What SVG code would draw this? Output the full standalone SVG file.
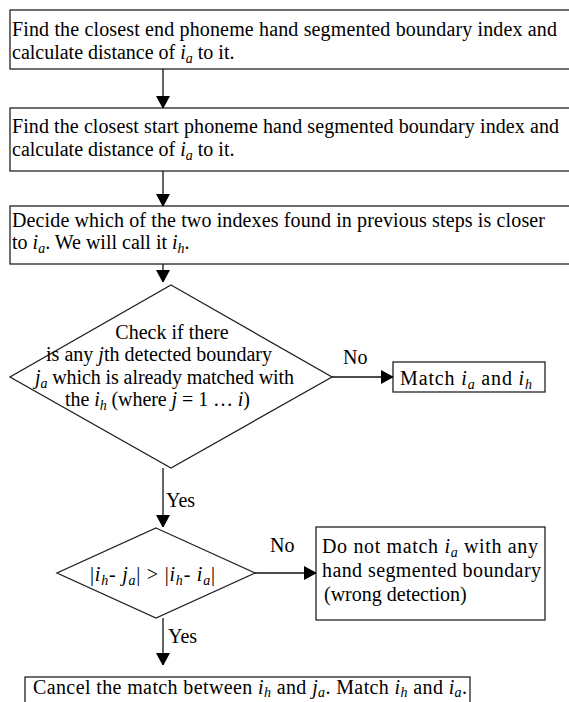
<svg xmlns="http://www.w3.org/2000/svg" width="569" height="702" viewBox="0 0 569 702">
<style>
text{font-family:"Liberation Serif","Times New Roman",serif;font-size:20px;fill:#000}
.i{font-style:italic}
.s{font-size:14px;font-style:italic}
.shape{fill:#fff;stroke:#222;stroke-width:1.3}
.conn line{stroke:#111;stroke-width:1.3}
</style>
<defs>
<marker id="ah" markerWidth="12" markerHeight="14" refX="12" refY="7" orient="auto" markerUnits="userSpaceOnUse">
<path d="M0,0 L13,7 L0,14 z" fill="#000"/>
</marker>
</defs>
<g id="box1">
<rect class="shape" x="10" y="10" width="570" height="59"/>
<text x="12" y="36" textLength="545" lengthAdjust="spacing">Find the closest end phoneme hand segmented boundary index and</text>
<text x="12" y="59">calculate distance of <tspan class="i">i</tspan><tspan class="s" dy="4">a</tspan><tspan dy="-4"> to it.</tspan></text>
</g>
<g id="box2">
<rect class="shape" x="10" y="108" width="570" height="63"/>
<text x="12" y="133" textLength="547" lengthAdjust="spacing">Find the closest start phoneme hand segmented boundary index and</text>
<text x="12" y="156">calculate distance of <tspan class="i">i</tspan><tspan class="s" dy="4">a</tspan><tspan dy="-4"> to it.</tspan></text>
</g>
<g id="box3">
<rect class="shape" x="10" y="206" width="570" height="58"/>
<text x="12" y="227" textLength="533" lengthAdjust="spacing">Decide which of the two indexes found in previous steps is closer</text>
<text x="12" y="249">to <tspan class="i">i</tspan><tspan class="s" dy="4">a</tspan><tspan dy="-4">. We will call it </tspan><tspan class="i">i</tspan><tspan class="s" dy="4">h</tspan><tspan dy="-4">.</tspan></text>
</g>
<g id="decision1">
<polygon class="shape" points="171,285 332,377 171,468 10,377"/>
<text x="172" y="339" text-anchor="middle">Check if there</text>
<text x="46" y="361" textLength="226" lengthAdjust="spacing">is any <tspan class="i">j</tspan>th detected boundary</text>
<text x="35" y="384" textLength="259" lengthAdjust="spacing"><tspan class="i">j</tspan><tspan class="s" dy="4">a</tspan><tspan dy="-4"> which is already matched with</tspan></text>
<text x="65" y="406" textLength="185" lengthAdjust="spacing">the <tspan class="i">i</tspan><tspan class="s" dy="4">h</tspan><tspan dy="-4"> (where </tspan><tspan class="i">j</tspan> = 1 … <tspan class="i">i</tspan>)</text>
</g>
<g id="match">
<rect class="shape" x="393" y="362" width="152" height="30"/>
<text x="400" y="385" textLength="132" lengthAdjust="spacing">Match <tspan class="i">i</tspan><tspan class="s" dy="4">a</tspan><tspan dy="-4"> and </tspan><tspan class="i">i</tspan><tspan class="s" dy="4">h</tspan></text>
</g>
<g id="decision2">
<polygon class="shape" points="156,528 255,573 156,618 57,573"/>
<text x="90" y="581" textLength="125" lengthAdjust="spacing">|<tspan class="i">i</tspan><tspan class="s" dy="4">h</tspan><tspan dy="-4">- </tspan><tspan class="i">j</tspan><tspan class="s" dy="4">a</tspan><tspan dy="-4">| &gt; |</tspan><tspan class="i">i</tspan><tspan class="s" dy="4">h</tspan><tspan dy="-4">- </tspan><tspan class="i">i</tspan><tspan class="s" dy="4">a</tspan><tspan dy="-4">|</tspan></text>
</g>
<g id="nomatch">
<rect class="shape" x="316" y="527" width="229" height="93"/>
<text x="322" y="553" textLength="216" lengthAdjust="spacing">Do not match <tspan class="i">i</tspan><tspan class="s" dy="4">a</tspan><tspan dy="-4"> with any</tspan></text>
<text x="322" y="577" textLength="219" lengthAdjust="spacing">hand segmented boundary</text>
<text x="324" y="601">(wrong detection)</text>
</g>
<g id="cancel">
<rect class="shape" x="25" y="677" width="445" height="40"/>
<text x="33" y="694" textLength="434" lengthAdjust="spacing">Cancel the match between <tspan class="i">i</tspan><tspan class="s" dy="3">h</tspan><tspan dy="-3"> and  </tspan><tspan class="i">j</tspan><tspan class="s" dy="3">a</tspan><tspan dy="-3">. Match </tspan><tspan class="i">i</tspan><tspan class="s" dy="3">h</tspan><tspan dy="-3"> and </tspan><tspan class="i">i</tspan><tspan class="s" dy="3">a</tspan><tspan dy="-3">.</tspan></text>
</g>
<g id="connectors" class="conn">
<line x1="163" y1="69" x2="163" y2="108" marker-end="url(#ah)"/>
<line x1="163" y1="171" x2="163" y2="206" marker-end="url(#ah)"/>
<line x1="163" y1="264" x2="163" y2="282" marker-end="url(#ah)"/>
<line x1="332" y1="377" x2="393" y2="377" marker-end="url(#ah)"/>
<line x1="163" y1="468" x2="163" y2="527" marker-end="url(#ah)"/>
<line x1="255" y1="573" x2="316" y2="573" marker-end="url(#ah)"/>
<line x1="163" y1="618" x2="163" y2="665" marker-end="url(#ah)"/>
</g>
<g id="labels">
<text x="343" y="364">No</text>
<text x="166" y="507">Yes</text>
<text x="270" y="552">No</text>
<text x="168" y="643">Yes</text>
</g>
</svg>
